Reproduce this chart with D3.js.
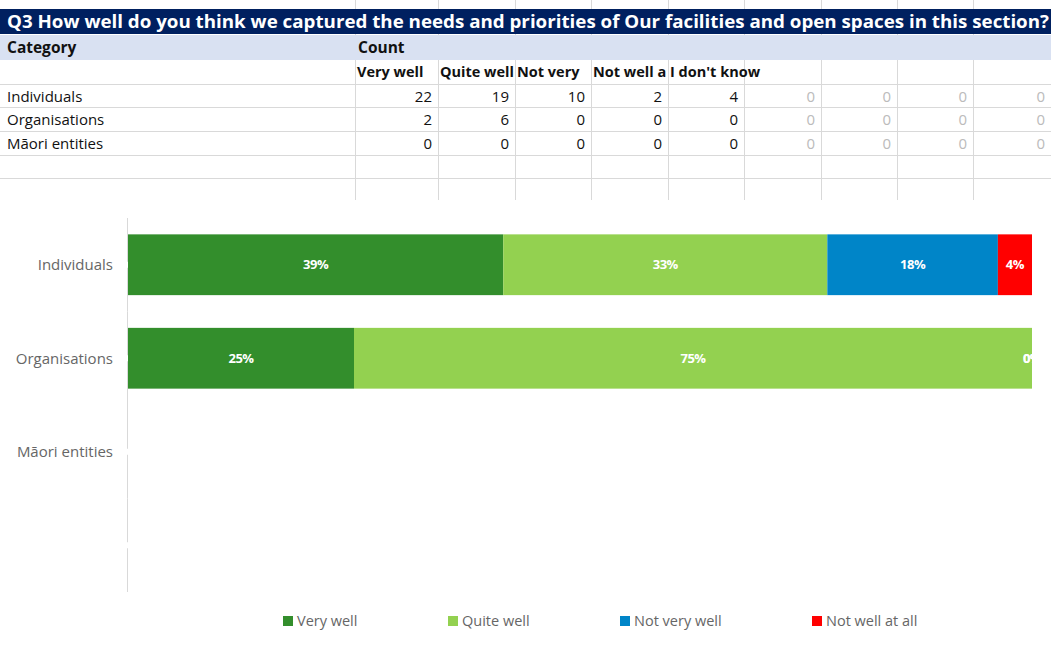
<!DOCTYPE html>
<html>
<head>
<meta charset="utf-8">
<script src="https://d3js.org/d3.v7.min.js" charset="utf-8"></script>
<style type="text/css">
	body {
		margin: 0;
		background-color: white;
		font-family: "Open Sans", sans-serif;
	}
</style>
</head>
<body>
<script>
// sheet data
var title = "Q3 How well do you think we captured the needs and priorities of Our facilities and open spaces in this section?";
var categories = ["Individuals", "Organisations", "Māori entities"];
var answers = ["Very well", "Quite well", "Not very well", "Not well at all", "I don't know"];
var veryWell = [22, 2, 0];
var quiteWell = [19, 6, 0];
var notVeryWell = [10, 0, 0];
var notWellAtAll = [2, 0, 0];
var dontKnow = [4, 0, 0];
var extraCols = [0, 0, 0, 0];

// series drawn in the chart
var chartSeries = ["Very well", "Quite well", "Not very well", "Not well at all"];
var colors = ["#338e2c", "#93d150", "#0085c8", "#ff0000"];

var w = 1051, h = 650;
var svg = d3.select("body").append("svg").attr("width", w).attr("height", h);

var counts = [veryWell, quiteWell, notVeryWell, notWellAtAll, dontKnow];
var sheetFont = "Open Sans, sans-serif";

// ---------- spreadsheet part ----------
var colEdges = [0, 355, 438, 515, 591, 668, 744, 821, 897, 973, 1051];
var rowEdges = [0, 9, 34, 60, 84, 107, 131, 155, 178, 200];
var grid = "#d9d9d9";

colEdges.slice(1, -1).forEach(function(x) {
	svg.append("line").attr("x1", x + 0.5).attr("x2", x + 0.5)
		.attr("y1", 0).attr("y2", 200).attr("stroke", grid);
});
rowEdges.slice(4, -1).forEach(function(y) {
	svg.append("line").attr("x1", 0).attr("x2", w)
		.attr("y1", y + 0.5).attr("y2", y + 0.5).attr("stroke", grid);
});

// title band
svg.append("rect").attr("x", 0).attr("y", 9).attr("width", w).attr("height", 25).attr("fill", "#002060");
svg.append("text").attr("x", 7).attr("y", 28).text(title)
	.attr("fill", "white").attr("font-weight", "bold").attr("font-size", 18)
	.attr("font-family", sheetFont)
	.attr("textLength", 1042).attr("lengthAdjust", "spacingAndGlyphs");

// sub band
svg.append("rect").attr("x", 0).attr("y", 35).attr("width", w).attr("height", 25).attr("fill", "#d9e1f2");
svg.append("text").attr("x", 7).attr("y", 53).text("Category")
	.attr("font-weight", "bold").attr("font-size", 15.5).attr("fill", "#111").attr("font-family", sheetFont);
svg.append("text").attr("x", 358).attr("y", 53).text("Count")
	.attr("font-weight", "bold").attr("font-size", 15.5).attr("fill", "#111").attr("font-family", sheetFont);

// answer headers, cut at the cell edge like excel does
var defs = svg.append("defs");
answers.forEach(function(a, i) {
	var x0 = colEdges[i + 1], x1 = colEdges[i + 2];
	var last = i === answers.length - 1;
	var id = "clip" + i;
	defs.append("clipPath").attr("id", id).append("rect")
		.attr("x", x0).attr("y", 60).attr("width", last ? 200 : x1 - x0 - 1).attr("height", 24);
	var t = svg.append("text").attr("x", x0 + 2).attr("y", 77).text(a)
		.attr("clip-path", "url(#" + id + ")")
		.attr("font-weight", "bold").attr("font-size", 14.5).attr("fill", "#111")
		.attr("font-family", sheetFont);
	if (!last) {
		var s = a;
		while (s.length > 1 && t.node().getComputedTextLength() > x1 - x0) {
			s = s.slice(0, -1);
			t.text(s);
		}
	}
});

// rows
categories.forEach(function(c, r) {
	var yb = rowEdges[r + 4] + 18;
	svg.append("text").attr("x", 7).attr("y", yb).text(c)
		.attr("font-size", 15).attr("fill", "#111").attr("font-family", sheetFont);
	counts.forEach(function(s, i) {
		svg.append("text").attr("x", colEdges[i + 2] - 6).attr("y", yb).text(s[r])
			.attr("text-anchor", "end").attr("font-size", 15).attr("fill", "#111").attr("font-family", sheetFont);
	});
	extraCols.forEach(function(v, i) {
		svg.append("text").attr("x", colEdges[i + 7] - 6).attr("y", yb).text(v)
			.attr("text-anchor", "end").attr("font-size", 15).attr("fill", "#bbbbbb").attr("font-family", sheetFont);
	});
});

// ---------- chart part ----------
svg.append("rect").attr("x", 0).attr("y", 201).attr("width", w).attr("height", h - 201).attr("fill", "white");

var chartCats = categories.concat([""]);
var x = d3.scaleLinear().domain([0, 1]).range([128, 1032]);
var y = d3.scaleBand().domain(chartCats).range([218, 592]).paddingInner(0.35).paddingOuter(0.175);
var step = y.step();

// axis line, broken at each category
chartCats.forEach(function(c) {
	var top = y(c) - y.paddingOuter() * step;
	var mid = top + step / 2;
	svg.append("line").attr("x1", 127.5).attr("x2", 127.5).attr("y1", top).attr("y2", mid - 3)
		.attr("stroke", "#d9d9d9");
	svg.append("line").attr("x1", 127.5).attr("x2", 127.5).attr("y1", mid + 3).attr("y2", top + step)
		.attr("stroke", "#d9d9d9");
});

svg.selectAll(".cat").data(categories).enter().append("text")
	.attr("x", 113).attr("y", function(d) { return y(d) + y.bandwidth() / 2; })
	.attr("dy", "0.35em").attr("text-anchor", "end")
	.attr("font-size", 15).attr("fill", "#666").text(function(d) { return d; });

defs.append("clipPath").attr("id", "plotclip").append("rect")
	.attr("x", 128).attr("y", 200).attr("width", 1032 - 128).attr("height", 400);

var plot = svg.append("g").attr("clip-path", "url(#plotclip)");

categories.forEach(function(c, r) {
	var shown = [veryWell[r], quiteWell[r], notVeryWell[r], notWellAtAll[r]];
	var sum = d3.sum(shown);
	var all = sum + dontKnow[r];
	if (sum === 0) return;
	var acc = 0;
	shown.forEach(function(v, i) {
		var x0 = x(acc / sum), x1 = x((acc + v) / sum);
		acc += v;
		plot.append("rect").attr("x", x0).attr("y", y(c))
			.attr("width", x1 - x0).attr("height", y.bandwidth()).attr("fill", colors[i]);
		plot.append("text").attr("x", (x0 + x1) / 2).attr("y", y(c) + y.bandwidth() / 2)
			.attr("dy", "0.35em").attr("text-anchor", "middle")
			.attr("font-size", 13).attr("font-weight", "bold").attr("fill", "white")
			.attr("letter-spacing", -0.5)
			.text(Math.round(v / all * 100) + "%");
	});
});

// legend
var legendX = [283, 448, 620, 812];
chartSeries.forEach(function(s, i) {
	svg.append("rect").attr("x", legendX[i]).attr("y", 616).attr("width", 10).attr("height", 10)
		.attr("fill", colors[i]);
	svg.append("text").attr("x", legendX[i] + 14).attr("y", 621).attr("dy", "0.35em")
		.attr("font-size", 14.5).attr("fill", "#666").text(s);
});
</script>
</body>
</html>
